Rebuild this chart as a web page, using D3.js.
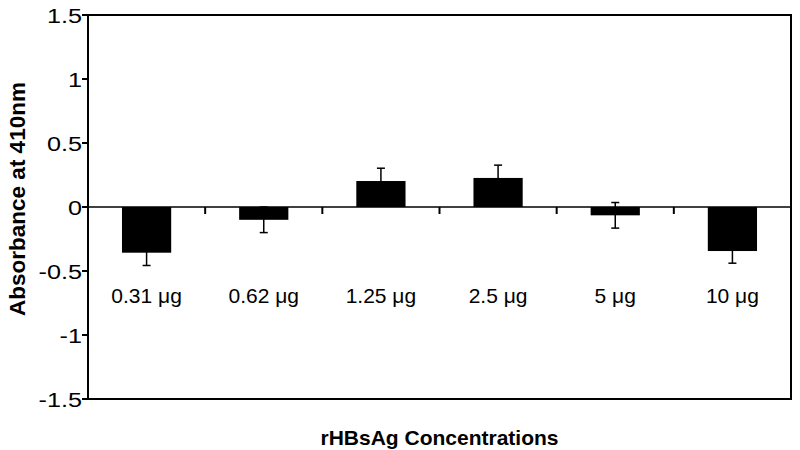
<!DOCTYPE html>
<meta charset="utf-8">
<style>
body { margin: 0; background: #fff; }
text { font-family: "Liberation Sans", Arial, sans-serif; fill: #000; }
.tick-label { font-size: 21px; }
.title { font-size: 21px; font-weight: bold; }
.ytitle { font-size: 22.5px; font-weight: bold; }
</style>
<svg width="800" height="450"></svg>
<script src="https://d3js.org/d3.v7.min.js"></script>
<script>

// data
var categories = ["0.31 μg", "0.62 μg", "1.25 μg", "2.5 μg", "5 μg", "10 μg"];
var values = [-0.357, -0.10, 0.203, 0.227, -0.065, -0.344];
var errors = [0.10, 0.10, 0.10, 0.10, 0.10, 0.095];
var yTicks = [-1.5, -1, -0.5, 0, 0.5, 1, 1.5];

var svg = d3.select("svg"),
    plotL = 88, plotR = 791, plotT = 15, plotB = 399;

var x = d3.scaleBand()
    .domain(categories)
    .range([plotL, plotR])
    .paddingInner(0.58)
    .paddingOuter(0.29);

var y = d3.scaleLinear()
    .domain([-1.5, 1.5])
    .range([plotB, plotT]);

var data = categories.map(function(c, i) {
  return { cat: c, value: values[i], err: errors[i] };
});

// y ticks + labels
var yAxis = svg.append("g");
yAxis.selectAll("line")
    .data(yTicks)
    .enter().append("line")
    .attr("x1", plotL - 6).attr("x2", plotL)
    .attr("y1", function(d) { return y(d); })
    .attr("y2", function(d) { return y(d); })
    .attr("stroke", "#000").attr("stroke-width", 2);

// labels in the reference are a bit wider than plain Arial, so stretch them
yAxis.selectAll("text")
    .data(yTicks)
    .enter().append("text")
    .attr("class", "tick-label")
    .attr("transform", function(d) { return "translate(" + (plotL - 6) + "," + y(d) + ") scale(1.2,1)"; })
    .attr("dy", "0.36em")
    .attr("text-anchor", "end")
    .text(function(d) { return d; });

// zero line
svg.append("line")
    .attr("x1", plotL).attr("x2", plotR)
    .attr("y1", y(0)).attr("y2", y(0))
    .attr("stroke", "#000").attr("stroke-width", 1.6);

// category separators on the zero line
var step = x.step();
svg.selectAll(".sep")
    .data(categories.slice(1))
    .enter().append("line")
    .attr("class", "sep")
    .attr("x1", function(d, i) { return plotL + (i + 1) * step; })
    .attr("x2", function(d, i) { return plotL + (i + 1) * step; })
    .attr("y1", y(0)).attr("y2", y(0) + 7)
    .attr("stroke", "#000").attr("stroke-width", 2);

// bars
svg.selectAll(".bar")
    .data(data)
    .enter().append("rect")
    .attr("class", "bar")
    .attr("x", function(d) { return x(d.cat); })
    .attr("width", x.bandwidth())
    .attr("y", function(d) { return y(Math.max(0, d.value)); })
    .attr("height", function(d) { return Math.abs(y(d.value) - y(0)); })
    .attr("fill", "#000");

// error bars
var eb = svg.selectAll(".err")
    .data(data)
    .enter().append("g")
    .attr("class", "err")
    .attr("transform", function(d) { return "translate(" + (x(d.cat) + x.bandwidth() / 2) + ",0)"; });

eb.append("line")
    .attr("y1", function(d) { return y(d.value - d.err); })
    .attr("y2", function(d) { return y(d.value + d.err); })
    .attr("stroke", "#000").attr("stroke-width", 1.5);

eb.selectAll(".cap")
    .data(function(d) { return [d.value - d.err, d.value + d.err]; })
    .enter().append("line")
    .attr("class", "cap")
    .attr("x1", -4).attr("x2", 4)
    .attr("y1", function(v) { return y(v); })
    .attr("y2", function(v) { return y(v); })
    .attr("stroke", "#000").attr("stroke-width", 1.5);

// category labels
svg.selectAll(".cat")
    .data(data)
    .enter().append("text")
    .attr("class", "tick-label")
    .attr("x", function(d) { return x(d.cat) + x.bandwidth() / 2; })
    .attr("y", 303)
    .attr("text-anchor", "middle")
    .text(function(d) { return d.cat; });

// frame
svg.append("rect")
    .attr("x", plotL).attr("y", plotT)
    .attr("width", plotR - plotL).attr("height", plotB - plotT)
    .attr("fill", "none")
    .attr("stroke", "#000").attr("stroke-width", 2);

// titles
svg.append("text")
    .attr("class", "title")
    .attr("x", (plotL + plotR) / 2)
    .attr("y", 445)
    .attr("text-anchor", "middle")
    .text("rHBsAg Concentrations");

svg.append("text")
    .attr("class", "ytitle")
    .attr("transform", "translate(25,199) rotate(-90)")
    .attr("text-anchor", "middle")
    .text("Absorbance at 410nm");

</script>
